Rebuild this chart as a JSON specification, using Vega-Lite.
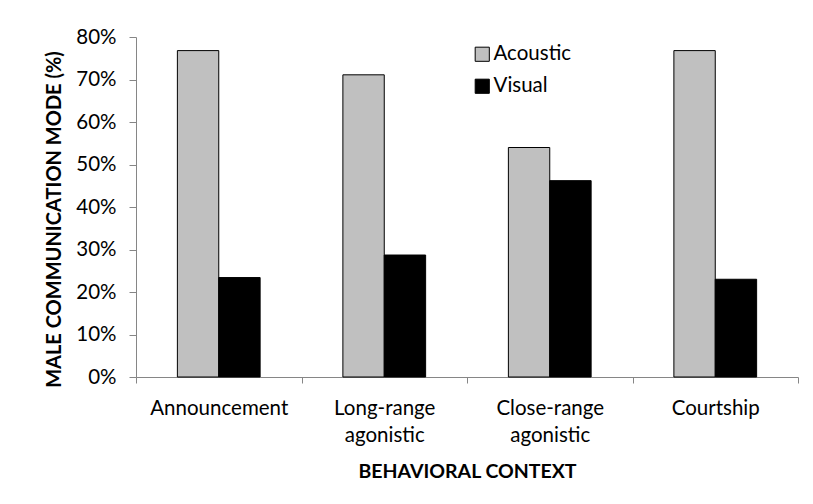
{
  "$schema": "https://vega.github.io/schema/vega-lite/v6.json",
  "autosize": {"type": "none"},
  "width": 662,
  "height": 340,
  "padding": {"left": 136, "top": 37, "right": 15, "bottom": 127},
  "background": "white",
  "config": {
    "view": {"stroke": null},
    "font": "Lato",
    "axis": {"grid": false, "domainColor": "#868686", "tickColor": "#868686", "labelColor": "#000000", "titleColor": "#000000", "labelFont": "Lato", "titleFont": "Lato"},
    "legend": {"labelFont": "Lato"}
  },
  "data": {
    "values": [
      {"context": "Announcement", "mode": "Acoustic", "pct": 0.768},
      {"context": "Announcement", "mode": "Visual", "pct": 0.234},
      {"context": "Long-range agonistic", "mode": "Acoustic", "pct": 0.711},
      {"context": "Long-range agonistic", "mode": "Visual", "pct": 0.287},
      {"context": "Close-range agonistic", "mode": "Acoustic", "pct": 0.540},
      {"context": "Close-range agonistic", "mode": "Visual", "pct": 0.462},
      {"context": "Courtship", "mode": "Acoustic", "pct": 0.768},
      {"context": "Courtship", "mode": "Visual", "pct": 0.230}
    ]
  },
  "mark": {"type": "bar", "stroke": "#000000", "strokeWidth": 1},
  "encoding": {
    "x": {
      "field": "context",
      "type": "nominal",
      "sort": null,
      "scale": {"paddingInner": 0, "paddingOuter": 0},
      "axis": {
        "title": "BEHAVIORAL CONTEXT",
        "titleFontSize": 19.5,
        "titleFontWeight": "bold",
        "titleBaseline": "alphabetic",
        "titleY": 100,
        "labelAngle": 0,
        "labelFontSize": 20.5,
        "labelPadding": 15,
        "labelLineHeight": 27,
        "labelExpr": "split(datum.label, ' ')",
        "tickBand": "extent",
        "tickSize": 6
      }
    },
    "xOffset": {
      "field": "mode",
      "type": "nominal",
      "scale": {"domain": ["Acoustic", "Visual"], "paddingInner": 0, "paddingOuter": 1.18}
    },
    "y": {
      "field": "pct",
      "type": "quantitative",
      "scale": {"domain": [0, 0.8], "nice": false},
      "axis": {
        "title": "MALE COMMUNICATION MODE (%)",
        "titleFontSize": 20,
        "titleFontWeight": "bold",
        "titlePadding": 11,
        "titleY": 182,
        "format": ".0%",
        "values": [0, 0.1, 0.2, 0.3, 0.4, 0.5, 0.6, 0.7, 0.8],
        "labelFontSize": 20.5,
        "labelPadding": 13,
        "tickSize": 7
      }
    },
    "color": {
      "field": "mode",
      "type": "nominal",
      "scale": {"domain": ["Acoustic", "Visual"], "range": ["#C0C0C0", "#000000"]},
      "legend": {
        "title": null,
        "orient": "none",
        "legendX": 336,
        "legendY": 7,
        "padding": 0,
        "symbolType": "square",
        "symbolSize": 200,
        "symbolStrokeWidth": 1,
        "labelFontSize": 20.5,
        "labelOffset": 1,
        "rowPadding": 11
      }
    }
  }
}
